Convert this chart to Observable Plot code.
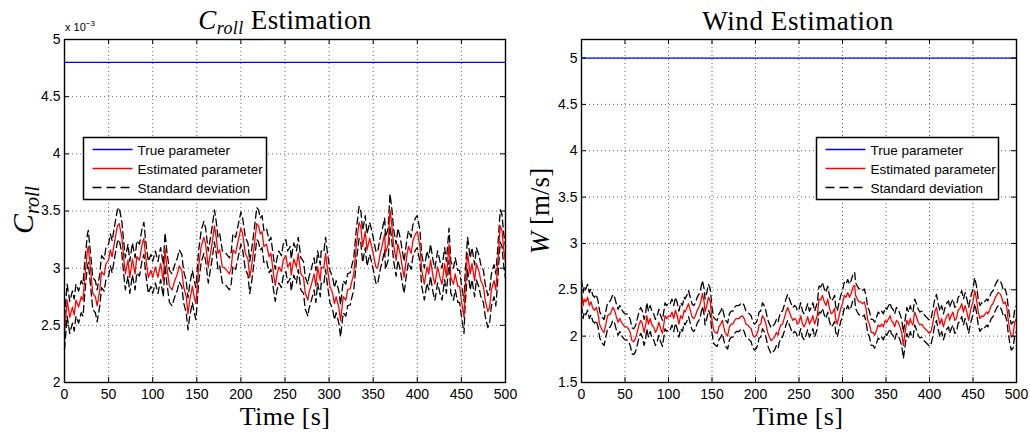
<!DOCTYPE html>
<html>
<head>
<meta charset="utf-8">
<script src="https://cdn.jsdelivr.net/npm/d3@7"></script>
<script src="https://cdn.jsdelivr.net/npm/@observablehq/plot@0.6"></script>
<style>
  html, body { margin: 0; padding: 0; background: #fff; }
  #wrap { position: relative; width: 1030px; height: 440px; overflow: hidden; }
  #wrap > div.panel { position: absolute; top: 0; }
  #overlay { position: absolute; left: 0; top: 0; pointer-events: none; }
</style>
</head>
<body>
<div id="wrap">
  <div class="panel" id="left" style="left:0"></div>
  <div class="panel" id="right" style="left:515px"></div>
  <svg id="overlay" width="1030" height="440"></svg>
</div>
<script>
// ---------- data ----------
const xTicks = [0, 50, 100, 150, 200, 250, 300, 350, 400, 450, 500];
const crollTicks = [2, 2.5, 3, 3.5, 4, 4.5, 5];
const windTicks = [1.5, 2, 2.5, 3, 3.5, 4, 4.5, 5];
const legendLabels = ["True parameter", "Estimated parameter", "Standard deviation"];

// C_roll (values in units of 1e-3)
const crollTrue = 4.8;
const crollStd = 0.14;
const crollTime = [0,3,6,9,11,13,16,19,21,23,26,27,30,32,35,37,40,42,45,47,50,52,54,57,60,62,65,67,69,72,74,77,80,82,85,88,90,92,95,98,100,103,106,109,112,114,116,119,122,125,128,130,133,135,138,140,142,145,147,149,152,155,158,160,163,167,170,172,174,176,179,182,185,187,189,191,194,197,200,202,205,208,210,212,215,218,220,222,224,226,229,232,234,237,239,241,243,246,248,251,253,256,257,260,263,265,268,271,273,276,277,280,283,285,287,290,291,294,296,298,301,304,306,308,311,313,316,319,321,324,325,328,331,334,336,338,341,343,346,348,350,353,355,358,360,363,364,367,369,371,373,376,378,381,383,385,388,390,393,395,398,400,403,405,408,411,413,415,418,420,423,426,428,431,433,436,438,441,443,446,448,450,453,454,457,460,462,465,467,470,472,475,477,480,482,484,487,489,491,494,496,498,500];
const crollEst = [2.43,2.72,2.57,2.66,2.59,2.72,2.66,2.75,2.72,2.92,3.16,3.19,2.95,2.78,2.75,2.67,2.81,2.97,2.94,3.04,3.07,3.16,3.10,3.24,3.37,3.39,3.27,3.10,2.95,3.07,2.92,3.08,2.95,3.10,3.07,3.21,3.26,3.10,2.92,2.98,2.92,3.01,2.92,3.04,2.89,3.17,3.01,2.84,2.81,2.89,2.95,3.02,2.98,2.84,2.75,2.60,2.72,2.84,2.75,2.69,3.01,3.19,3.27,3.21,3.01,3.20,3.37,3.27,3.13,3.16,3.01,3.00,2.97,2.95,3.00,3.16,3.13,3.24,3.35,3.30,3.13,3.08,2.92,3.01,3.19,3.39,3.37,3.30,3.32,3.19,3.21,3.10,3.13,2.95,2.85,2.95,3.01,2.97,3.07,3.11,3.01,3.05,2.94,3.08,3.01,3.13,2.95,2.92,2.78,2.72,2.78,2.86,2.95,2.84,3.01,2.89,3.01,3.00,3.13,3.00,2.84,2.78,2.69,2.75,2.66,2.54,2.75,2.72,2.81,2.82,2.86,2.95,3.21,3.40,3.36,3.19,3.32,3.16,3.26,3.20,3.13,3.01,3.00,3.13,3.19,3.30,3.13,3.21,3.51,3.39,3.21,3.07,3.21,3.11,3.01,2.92,3.10,3.19,3.13,3.24,3.30,3.32,3.19,2.98,2.86,3.01,2.95,3.07,2.92,2.86,3.01,2.91,2.86,3.04,2.92,3.21,2.92,2.86,2.95,2.84,2.84,2.72,2.57,2.78,3.13,2.95,3.04,2.89,3.04,2.97,2.89,2.84,2.72,2.62,2.66,2.81,2.89,2.81,3.01,3.37,3.33,3.16,3.05];

// Wind [m/s]
const windTrue = 5;
const windStd = 0.14;
const windTime = [0,2,3,5,7,9,11,13,15,17,19,21,24,26,28,30,33,34,36,38,40,42,44,46,48,50,52,54,56,58,60,62,64,66,68,70,72,74,75,77,79,81,83,85,87,89,91,93,95,96,98,100,102,104,106,108,110,112,114,116,118,119,121,123,125,127,129,131,133,135,137,139,141,142,144,146,148,150,152,154,156,158,160,162,163,165,168,170,172,174,176,178,180,181,183,185,187,189,191,193,195,197,199,201,203,204,206,208,210,212,214,216,218,220,222,224,226,227,229,231,233,235,237,239,241,243,245,247,248,250,252,254,256,258,260,262,264,266,268,270,271,273,275,277,279,281,283,285,287,289,291,292,294,296,298,300,302,304,306,308,310,312,314,315,317,319,321,323,325,327,329,331,333,335,337,339,341,343,345,347,349,351,353,355,356,358,360,362,364,366,368,370,372,374,376,378,379,381,383,385,387,389,391,393,395,397,399,400,402,404,406,408,410,412,414,416,418,420,422,423,425,427,429,431,433,435,437,439,441,443,445,446,448,450,452,454,456,458,460,462,464,466,467,469,471,473,475,477,479,481,483,485,487,489,490,492,494,496,498,500];
const windEst = [2.47,2.33,2.40,2.37,2.42,2.33,2.37,2.30,2.28,2.31,2.24,2.12,2.06,2.04,2.13,2.22,2.24,2.26,2.31,2.28,2.21,2.15,2.19,2.15,2.12,2.10,2.10,2.08,2.04,1.95,1.94,1.97,2.04,2.12,2.17,2.13,2.04,2.13,2.22,2.13,2.19,2.12,2.10,2.04,2.08,2.15,2.08,2.03,2.15,2.22,2.19,2.22,2.21,2.26,2.19,2.28,2.22,2.13,2.22,2.19,2.28,2.26,2.30,2.35,2.28,2.21,2.19,2.22,2.28,2.31,2.37,2.46,2.37,2.26,2.33,2.42,2.37,2.17,2.06,2.04,2.03,2.10,2.13,2.17,2.12,2.04,2.00,2.10,2.13,2.13,2.17,2.19,2.19,2.19,2.21,2.22,2.19,2.13,2.12,2.10,2.08,2.01,1.99,2.01,2.06,2.12,2.13,2.22,2.19,2.13,2.04,1.99,1.95,1.97,1.99,2.04,2.01,2.06,2.12,2.13,2.19,2.26,2.31,2.26,2.21,2.17,2.19,2.17,2.13,2.15,2.22,2.13,2.10,2.15,2.21,2.13,2.17,2.22,2.13,2.19,2.22,2.40,2.39,2.44,2.37,2.33,2.40,2.30,2.24,2.26,2.30,2.19,2.13,2.22,2.30,2.35,2.44,2.42,2.47,2.42,2.46,2.53,2.55,2.44,2.40,2.37,2.37,2.35,2.37,2.30,2.17,2.13,2.04,2.04,2.01,2.06,2.12,2.10,2.13,2.10,2.17,2.15,2.19,2.22,2.17,2.15,2.10,2.17,2.15,2.10,2.04,1.90,2.04,2.17,2.12,2.19,2.15,2.12,2.26,2.21,2.15,2.12,2.13,2.10,2.08,2.06,2.04,2.03,2.06,2.15,2.26,2.31,2.21,2.13,2.19,2.10,2.17,2.22,2.24,2.17,2.22,2.26,2.17,2.19,2.28,2.30,2.35,2.26,2.33,2.26,2.17,2.22,2.31,2.37,2.49,2.40,2.26,2.19,2.22,2.21,2.24,2.26,2.24,2.28,2.33,2.35,2.40,2.44,2.47,2.46,2.42,2.35,2.37,2.30,2.21,2.08,1.99,2.01,2.15,2.19];

// ---------- drawing ----------
const W = 515, H = 440, MT = 39, MB = 58;
const sans = "'Liberation Sans', Arial, Helvetica, sans-serif";
const serif = "'Liberation Serif', 'Times New Roman', serif";

function panel({time, est, std, truth, yDomain, yTicks, marginLeft, marginRight}) {
  const rows = time.map((t, i) => ({t, est: est[i], up: est[i] + std, lo: est[i] - std}));
  const pw = W - marginLeft - marginRight;
  const ph = H - MT - MB;
  const grid = {stroke: "#000", strokeOpacity: 0.75, strokeWidth: 0.8, strokeDasharray: "1,3"};
  const dash = {x: "t", stroke: "#000", strokeWidth: 1.3, strokeDasharray: "7,4"};
  return Plot.plot({
    width: W, height: H,
    marginLeft, marginRight, marginTop: MT, marginBottom: MB,
    x: {domain: [0, 500]},
    y: {domain: yDomain},
    style: {fontFamily: sans, fontSize: "14px", color: "#000", background: "transparent", overflow: "visible"},
    marks: [
      Plot.gridX(xTicks, grid),
      Plot.gridY(yTicks, grid),
      Plot.ruleY([truth], {stroke: "#0000ff", strokeWidth: 1.2}),
      Plot.line(rows, {...dash, y: "up"}),
      Plot.line(rows, {...dash, y: "lo"}),
      Plot.line(rows, {x: "t", y: "est", stroke: "#ff0000", strokeWidth: 1.3}),
      Plot.ruleX(xTicks, {stroke: "#000", insetTop: ph - 5}),
      Plot.ruleX(xTicks, {stroke: "#000", insetBottom: ph - 5}),
      Plot.ruleY(yTicks, {stroke: "#000", insetRight: pw - 5}),
      Plot.ruleY(yTicks, {stroke: "#000", insetLeft: pw - 5}),
      Plot.axisX(xTicks, {tickSize: 0, tickPadding: 7, label: null, tickFormat: d => String(d), fontSize: 14}),
      Plot.axisY(yTicks, {tickSize: 0, tickPadding: 4, label: null, tickFormat: d => String(d), fontSize: 14}),
      Plot.frame({stroke: "#000", strokeWidth: 1.4})
    ]
  });
}

document.getElementById("left").append(panel({
  time: crollTime, est: crollEst, std: crollStd, truth: crollTrue,
  yDomain: [2, 5], yTicks: crollTicks, marginLeft: 64, marginRight: 10
}));
document.getElementById("right").append(panel({
  time: windTime, est: windEst, std: windStd, truth: windTrue,
  yDomain: [1.5, 5.2], yTicks: windTicks, marginLeft: 66, marginRight: 14
}));

// ---------- text & legends ----------
const ov = d3.select("#overlay");
function text(x, y, html, opts = {}) {
  const t = ov.append("text").attr("x", x).attr("y", y)
    .attr("text-anchor", opts.anchor || "middle")
    .attr("font-family", opts.font || serif)
    .attr("font-size", opts.size || 26)
    .attr("fill", "#000");
  if (opts.letter) t.attr("letter-spacing", opts.letter);
  if (opts.rotate) t.attr("transform", `rotate(-90 ${x} ${y})`);
  t.html(html);
  return t;
}
// titles
text(285, 29, `<tspan font-style="italic">C</tspan><tspan font-style="italic" font-size="18" dy="5">roll</tspan><tspan dy="-5"> Estimation</tspan>`, {size: 27, letter: 0.4});
text(798, 30, `Wind Estimation`, {size: 27, letter: 0.6});
// x labels
text(285, 425, `Time [s]`, {size: 26, letter: 0.3});
text(798, 425, `Time [s]`, {size: 26, letter: 0.3});
// y labels
text(33, 210, `<tspan font-style="italic">C</tspan><tspan font-style="italic" font-size="20" dy="6">roll</tspan>`, {size: 30, rotate: true});
text(549, 211, `<tspan font-style="italic">W</tspan> [m/s]`, {size: 27, rotate: true});
// exponent
text(65, 31, `x 10<tspan font-size="8" dy="-5">−3</tspan>`, {font: sans, size: 11, anchor: "start"});

function legend(x0, y0, w, h) {
  const g = ov.append("g");
  g.append("rect").attr("x", x0).attr("y", y0).attr("width", w).attr("height", h)
    .attr("fill", "#fff").attr("stroke", "#000").attr("stroke-width", 1.5);
  const styles = [
    {stroke: "#0000ff", dash: null},
    {stroke: "#ff0000", dash: null},
    {stroke: "#000", dash: "9,5"}
  ];
  legendLabels.forEach((lab, i) => {
    const y = y0 + 12 + i * 19;
    const l = g.append("line").attr("x1", x0 + 9).attr("x2", x0 + 49).attr("y1", y).attr("y2", y)
      .attr("stroke", styles[i].stroke).attr("stroke-width", 1.3);
    if (styles[i].dash) l.attr("stroke-dasharray", styles[i].dash);
    g.append("text").attr("x", x0 + 54).attr("y", y + 5).attr("font-family", sans)
      .attr("font-size", 13.5).attr("fill", "#000").text(lab);
  });
}
legend(83.5, 137.5, 183, 62);
legend(816.5, 137.5, 182, 62);
</script>
</body>
</html>
